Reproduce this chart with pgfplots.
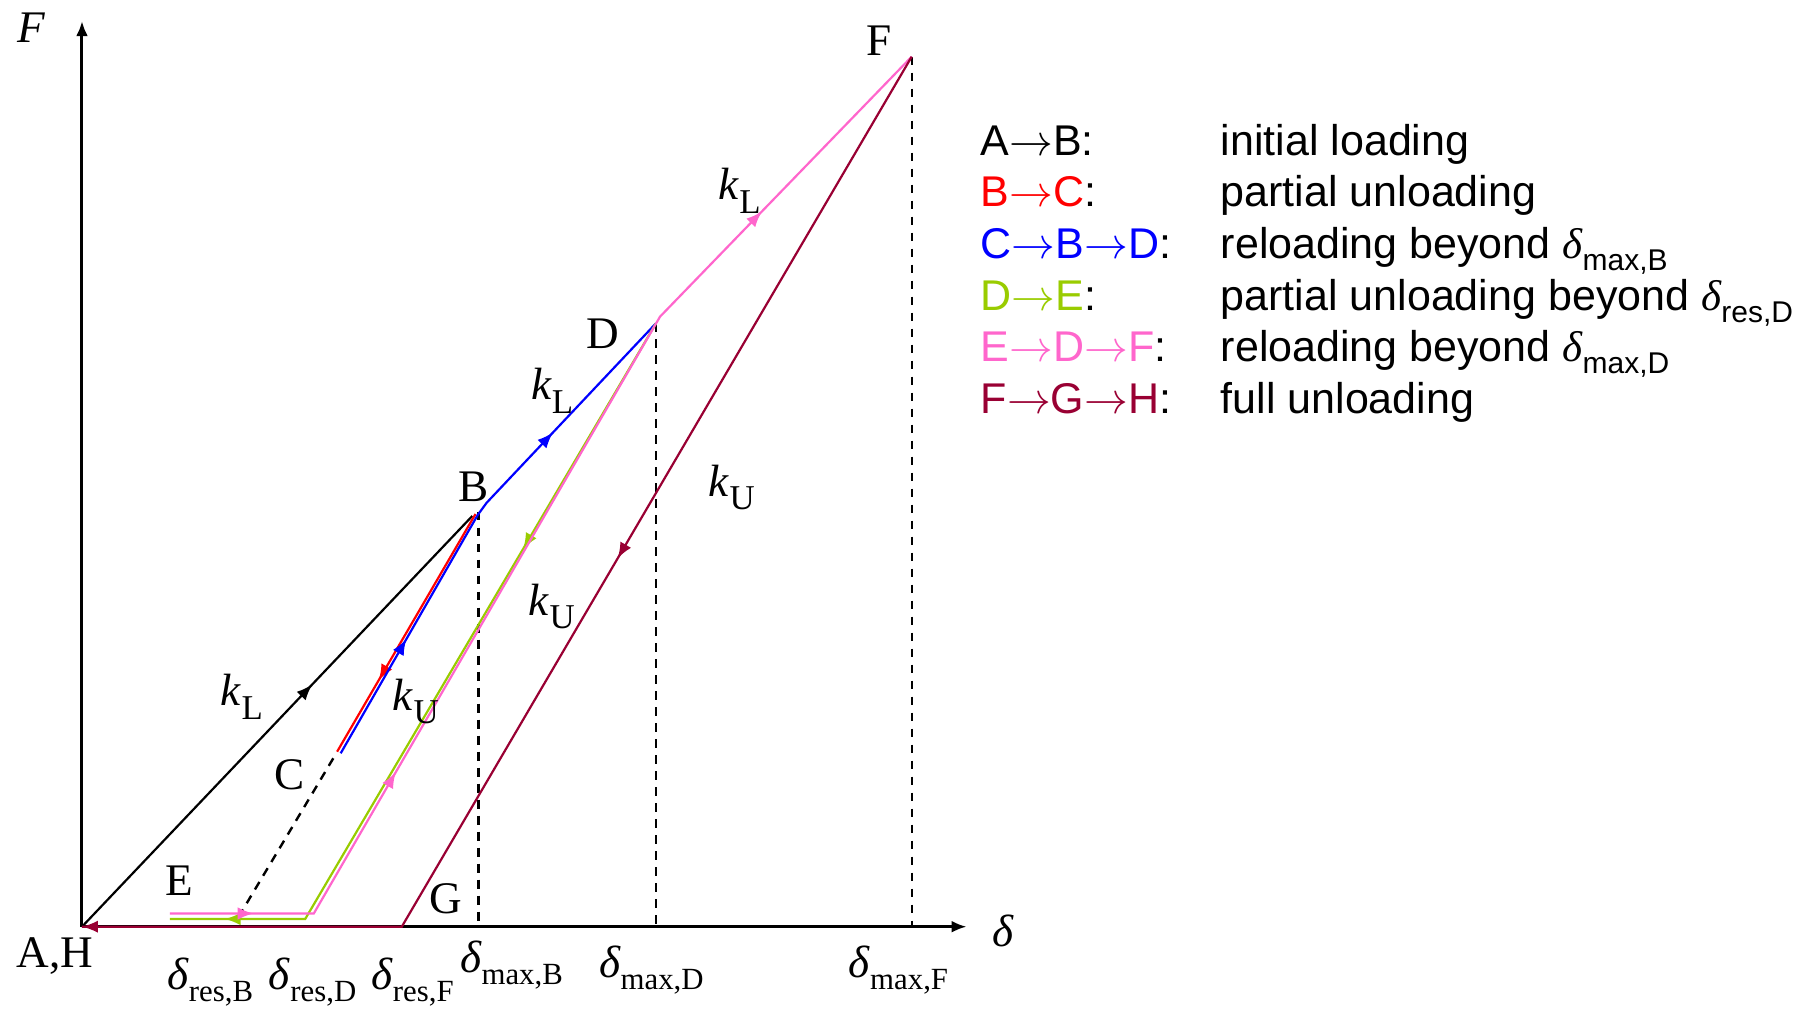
\documentclass[border=0pt]{standalone}
\usepackage{fontspec}
\setmainfont{Liberation Serif}
\newfontfamily\legfont{Liberation Sans}
\usepackage{pgfplots}
\pgfplotsset{compat=1.18}
\usetikzlibrary{arrows.meta,decorations.markings}

\definecolor{pathred}{RGB}{255,0,0}
\definecolor{pathblue}{RGB}{0,0,255}
\definecolor{pathgreen}{RGB}{153,204,0}
\definecolor{pathpink}{RGB}{255,102,204}
\definecolor{pathmaroon}{RGB}{153,0,51}

% stiffness symbol with upright subscript, e.g. k_L
\newcommand\ksym[1]{\textit{k}\raisebox{-3.3pt}{\fontsize{8.7}{9}\selectfont #1}}
% displacement symbol with upright subscript, e.g. delta_max,B
\newcommand\dsym[1]{\textit{δ}\raisebox{-3pt}{\fontsize{7.7}{9}\selectfont #1}}
% the same inside the sans-serif legend
\newcommand\legd[1]{{\rmfamily\itshape δ}\raisebox{-3pt}{\fontsize{7.5}{9}\selectfont #1}}
% path arrow in the legend
\newcommand\pathto{\ensuremath{\rightarrow}}

\tikzset{
  midtip/.tip={Latex[length=4pt,width=3.1pt]},
  curve/.style={line width=0.55pt},
  guide/.style={black, line width=0.6pt, dash pattern=on 2.2pt off 1.8pt},
  lbl/.style={inner sep=0pt, font=\fontsize{11.3}{13}\selectfont},
  leg/.style={inner sep=0pt, anchor=base west, font=\legfont\fontsize{10.75}{13}\selectfont},
}

\begin{document}
\begin{tikzpicture}
\useasboundingbox (-20.5pt,-20.325pt) rectangle (429.5pt,231.675pt);
\begin{axis}[
  at={(0pt,0pt)}, anchor=south west,
  x=25pt, y=25pt,
  xmin=0, xmax=8.847, ymin=0, ymax=9.057,
  enlargelimits=false,
  axis lines=left,
  axis line style={line width=0.75pt, -{Latex[length=3.8pt,width=3pt]}},
  xtick=\empty, ytick=\empty,
  clip=false,
]

% guide lines
\addplot[guide] coordinates {(2.513,1.684) (1.553,0.077)};
\addplot[guide] coordinates {(3.963,4.150) (3.963,0)};
\addplot[guide] coordinates {(5.737,6.034) (5.737,0)};
\addplot[guide] coordinates {(8.297,8.700) (8.297,0)};

% A -> B : initial loading
\addplot[black, curve, postaction={decorate},
  decoration={markings, mark=at position 0.59 with {\arrow{midtip}}}]
  coordinates {(0,0) (3.903,4.107)};

% B -> C : partial unloading
\addplot[pathred, curve, postaction={decorate},
  decoration={markings, mark=at position 0.70 with {\arrow{midtip}}}]
  coordinates {(3.935,4.127) (2.551,1.750)};

% C -> B -> D : reloading
\addplot[pathblue, curve, postaction={decorate},
  decoration={markings,
    mark=at position 0.246 with {\arrow{midtip}},
    mark=at position 0.721 with {\arrow{midtip}}}]
  coordinates {(2.587,1.734) (3.957,4.117) (4.047,4.240) (5.740,6.034)};

% D -> E : partial unloading
\addplot[pathgreen, curve, postaction={decorate},
  decoration={markings,
    mark=at position 0.317 with {\arrow{midtip}},
    mark=at position 0.934 with {\arrow{midtip}}}]
  coordinates {(5.740,6.034) (2.232,0.077) (0.880,0.077)};

% E -> D -> F : reloading
\addplot[pathpink, curve, postaction={decorate},
  decoration={markings,
    mark=at position 0.070 with {\arrow{midtip}},
    mark=at position 0.257 with {\arrow{midtip}},
    mark=at position 0.820 with {\arrow{midtip}}}]
  coordinates {(0.880,0.132) (2.318,0.132) (5.780,6.100) (8.297,8.700)};

% F -> G -> H : full unloading
\addplot[pathmaroon, curve, postaction={decorate},
  decoration={markings,
    mark=at position 0.438 with {\arrow{midtip}},
    mark=at position 1 with {\arrow{midtip}}}]
  coordinates {(8.297,8.700) (3.198,0) (0,0)};

% axis names
\node[lbl] at (axis cs:-0.51,8.987) {\textit{F}};
\node[lbl] at (axis cs:9.21,-0.043) {\textit{δ}};

% points
\node[lbl, anchor=base] at (axis cs:-0.27,-0.403) {A,H};
\node[lbl] at (axis cs:3.92,4.397) {B};
\node[lbl] at (axis cs:2.08,1.517) {C};
\node[lbl] at (axis cs:5.21,5.927) {D};
\node[lbl] at (axis cs:0.97,0.457) {E};
\node[lbl] at (axis cs:7.97,8.857) {F};
\node[lbl] at (axis cs:3.636,0.277) {G};

% stiffness labels
\node[lbl, anchor=base west] at (axis cs:1.38,2.207) {\ksym{L}};
\node[lbl, anchor=base west] at (axis cs:3.10,2.167) {\ksym{U}};
\node[lbl, anchor=base west] at (axis cs:4.46,3.112) {\ksym{U}};
\node[lbl, anchor=base west] at (axis cs:6.26,4.304) {\ksym{U}};
\node[lbl, anchor=base west] at (axis cs:4.484,5.267) {\ksym{L}};
\node[lbl, anchor=base west] at (axis cs:6.359,7.267) {\ksym{L}};

% displacement marks on the delta axis
\node[lbl, anchor=base west] at (axis cs:0.845,-0.623) {\dsym{res,B}};
\node[lbl, anchor=base west] at (axis cs:1.860,-0.623) {\dsym{res,D}};
\node[lbl, anchor=base west] at (axis cs:2.885,-0.623) {\dsym{res,F}};
\node[lbl, anchor=base west] at (axis cs:3.772,-0.453) {\dsym{max,B}};
\node[lbl, anchor=base west] at (axis cs:5.162,-0.503) {\dsym{max,D}};
\node[lbl, anchor=base west] at (axis cs:7.658,-0.503) {\dsym{max,F}};

% legend of the load path
\node[leg] at (axis cs:8.98,7.712) {A\pathto B:};
\node[leg] at (axis cs:8.98,7.197) {{\color{pathred}B\pathto C}:};
\node[leg] at (axis cs:8.98,6.681) {{\color{pathblue}C\pathto B\pathto D}:};
\node[leg] at (axis cs:8.98,6.166) {{\color{pathgreen}D\pathto E}:};
\node[leg] at (axis cs:8.98,5.650) {{\color{pathpink}E\pathto D\pathto F}:};
\node[leg] at (axis cs:8.98,5.135) {{\color{pathmaroon}F\pathto G\pathto H}:};

\node[leg] at (axis cs:11.38,7.712) {initial loading};
\node[leg] at (axis cs:11.38,7.197) {partial unloading};
\node[leg] at (axis cs:11.38,6.681) {reloading beyond \legd{max,B}};
\node[leg] at (axis cs:11.38,6.166) {partial unloading beyond \legd{res,D}};
\node[leg] at (axis cs:11.38,5.650) {reloading beyond \legd{max,D}};
\node[leg] at (axis cs:11.38,5.135) {full unloading};

\end{axis}
\end{tikzpicture}
\end{document}
